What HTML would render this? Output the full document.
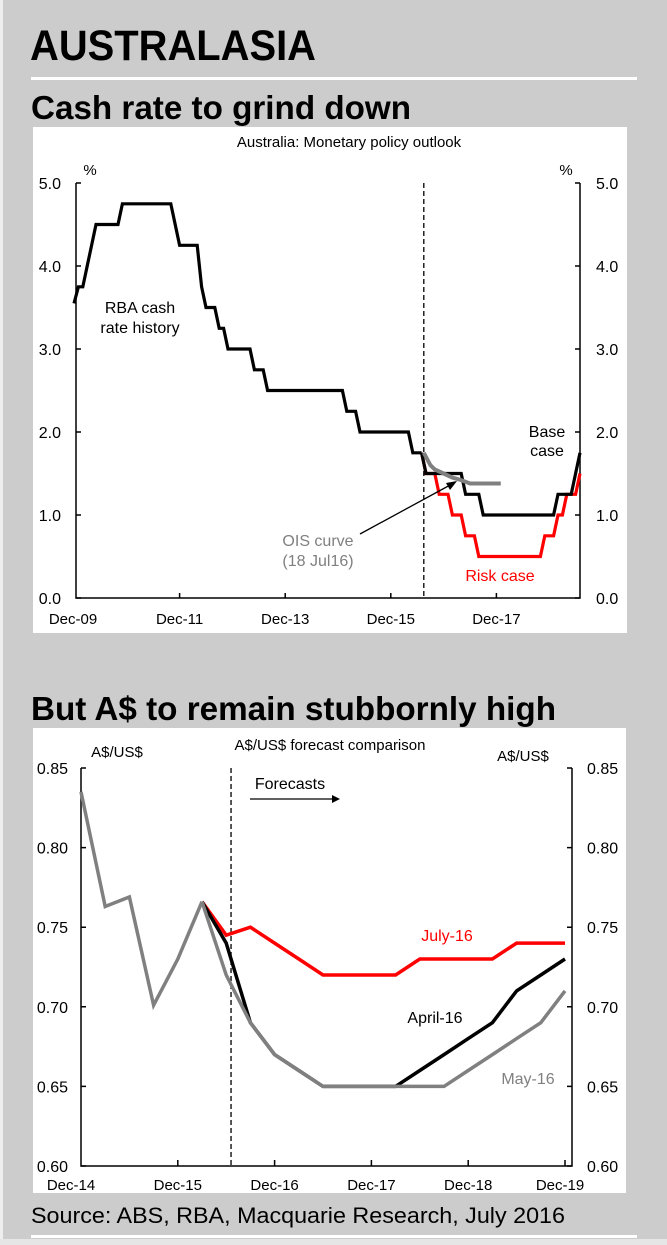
<!DOCTYPE html>
<html><head><meta charset="utf-8"><style>
html,body{margin:0;padding:0;background:#cccccc;}
svg{display:block;font-family:"Liberation Sans",Arial,sans-serif;}
</style></head><body>
<svg id="root" width="667" height="1245" viewBox="0 0 667 1245">
<rect x="0" y="0" width="667" height="1245" fill="#cccccc"/>
<rect x="0" y="0" width="3" height="1245" fill="#eeeeee"/>
<text x="30" y="60" font-size="43" font-weight="bold" textLength="286" lengthAdjust="spacingAndGlyphs">AUSTRALASIA</text>
<rect x="31" y="77" width="606" height="3" fill="#ffffff"/>
<text x="31" y="119" font-size="33" font-weight="bold" textLength="380" lengthAdjust="spacingAndGlyphs">Cash rate to grind down</text>
<rect x="33" y="127" width="594" height="506" fill="#ffffff"/>
<g id="c1"></g>
<text x="31" y="720" font-size="33" font-weight="bold" textLength="525" lengthAdjust="spacingAndGlyphs">But A$ to remain stubbornly high</text>
<rect x="33" y="728" width="593" height="465" fill="#ffffff"/>
<g id="c2"></g>
<text x="31" y="1223" font-size="22" textLength="534" lengthAdjust="spacingAndGlyphs">Source: ABS, RBA, Macquarie Research, July 2016</text>
<rect x="31" y="1235" width="606" height="3" fill="#ffffff"/>
<rect x="0" y="1239" width="667" height="6" fill="#e6e6e6"/>
</svg>
<script>
// ---------- Chart 1 data (months since Dec-09) ----------
const histMonths = [0,1,2,3,4,5,10,11,22,23,24,28,29,30,32,33,34,35,40,41,43,44,61,62,64,65,76,77,79];
const histRates  = [3.55,3.75,3.75,4.0,4.25,4.5,4.5,4.75,4.75,4.5,4.25,4.25,3.75,3.5,3.5,3.25,3.25,3.0,3.0,2.75,2.75,2.5,2.5,2.25,2.25,2.0,2.0,1.75,1.75];
const baseMonths = [79,80,88,89,92,93,109,110,113,114,115];
const baseRates  = [1.75,1.5,1.5,1.25,1.25,1.0,1.0,1.25,1.25,1.5,1.75];
const riskMonths = [79,80,82,83,85,86,88,89,91,92,106,107,109,110,111,112,114,115];
const riskRates  = [1.75,1.5,1.5,1.25,1.25,1.0,1.0,0.75,0.75,0.5,0.5,0.75,0.75,1.0,1.0,1.25,1.25,1.5];
const oisMonths  = [79.5,81,82,84,86,88,90,92,97];
const oisRates   = [1.75,1.6,1.55,1.5,1.45,1.42,1.38,1.38,1.38];
const c1YTicks = [0,1,2,3,4,5];
const c1XTickMonths = [0,24,48,72,96];
const c1XLabels = ["Dec-09","Dec-11","Dec-13","Dec-15","Dec-17"];
const c1Divider = 79.5;

// ---------- Chart 2 data (quarters since Dec-14) ----------
const fxHistQ = [0,1,2,3,4,5];
const fxHist  = [0.835,0.763,0.769,0.701,0.730,0.766];
const fcQ     = [5,6,7,8,9,10,11,12,13,14,15,16,17,18,19,20];
const julyFc  = [0.766,0.745,0.750,0.740,0.730,0.720,0.720,0.720,0.720,0.730,0.730,0.730,0.730,0.740,0.740,0.740];
const aprilFc = [0.766,0.740,0.690,0.670,0.660,0.650,0.650,0.650,0.650,0.660,0.670,0.680,0.690,0.710,0.720,0.730];
const mayFc   = [0.766,0.720,0.690,0.670,0.660,0.650,0.650,0.650,0.650,0.650,0.650,0.660,0.670,0.680,0.690,0.710];
const c2YTicks = [0.60,0.65,0.70,0.75,0.80,0.85];
const c2XTickQ = [0,4,8,12,16,20];
const c2XLabels = ["Dec-14","Dec-15","Dec-16","Dec-17","Dec-18","Dec-19"];
const c2Divider = 6.2;

const NS="http://www.w3.org/2000/svg";
function mk(parent,tag,attrs){const e=document.createElementNS(NS,tag);for(const k in attrs)e.setAttribute(k,attrs[k]);parent.appendChild(e);return e;}
function txt(parent,x,y,s,size,anchor,fill){const t=mk(parent,"text",{x:x,y:y,"font-size":size,"text-anchor":anchor||"start",fill:fill||"#000"});t.textContent=s;return t;}
function pts(xs,ys,fx,fy){return xs.map((v,i)=>fx(v).toFixed(1)+","+fy(ys[i]).toFixed(1)).join(" ");}

// ---------- Chart 1 ----------
(function(){
const g=document.getElementById("c1");
const L=76,R=580,T=183,B=598;
const x=m=>74+m*4.4;
const y=v=>B-(v/5)*(B-T);
let t=txt(g,349,147,"Australia: Monetary policy  outlook",15,"middle");


t=txt(g,90,175,"%",15,"middle");


t=txt(g,566,175,"%",15,"middle");


let ax=mk(g,"path",{d:`M${L},${T}V${B}H${R}V${T}`,fill:"none",stroke:"#000","stroke-width":1.5});


c1YTicks.forEach(v=>{
  const yy=y(v);
  let tk=mk(g,"path",{d:`M${L},${yy}h5M${R},${yy}h-5`,stroke:"#000","stroke-width":1.5});
  
  
  let a=txt(g,61,yy+6,v.toFixed(1),16,"end");
  
  
  let b=txt(g,596,yy+6,v.toFixed(1),16,"start");
  
  
});
c1XTickMonths.forEach((m,i)=>{
  const xx=x(m);
  if(i>0){let tk=mk(g,"path",{d:`M${xx},${B}v-5`,stroke:"#000","stroke-width":1.5});
  
  }
  let l=txt(g,i===0?73:xx,624,c1XLabels[i],15,"middle");
  
  
});
let dv=mk(g,"line",{x1:x(c1Divider),x2:x(c1Divider),y1:183,y2:B,stroke:"#000","stroke-width":1.3,"stroke-dasharray":"5,3"});


let s=mk(g,"polyline",{points:pts(riskMonths,riskRates,x,y),fill:"none",stroke:"#ff0000","stroke-width":3.2});


s=mk(g,"polyline",{points:pts(baseMonths,baseRates,x,y),fill:"none",stroke:"#000","stroke-width":3.2});


s=mk(g,"polyline",{points:pts(histMonths,histRates,x,y),fill:"none",stroke:"#000","stroke-width":3.2});


s=mk(g,"polyline",{points:pts(oisMonths,oisRates,x,y),fill:"none",stroke:"#808080","stroke-width":4});


let ar=mk(g,"path",{d:"M360,534L452,484",stroke:"#000","stroke-width":1.3});


let ah=mk(g,"path",{d:"M457,481L446,483L450,490Z",fill:"#000"});


t=txt(g,140,313,"RBA cash",16,"middle");
t=txt(g,140,333,"rate history",16,"middle");
t=txt(g,547,437,"Base",16,"middle");
t=txt(g,547,456,"case",16,"middle");
t=txt(g,500,581,"Risk case",16,"middle","#ff0000");
t=txt(g,318,546,"OIS curve",16,"middle","#808080");
t=txt(g,318,566,"(18 Jul16)",16,"middle","#808080");
})();

// ---------- Chart 2 ----------
(function(){
const g=document.getElementById("c2");
const L=81,R=572,T=768,B=1166;
const x=q=>81+q*24.2;
const y=v=>B-(v-0.60)/0.25*(B-T);
let t=txt(g,330,750,"A$/US$ forecast comparison",15,"middle");

t=txt(g,117,757,"A$/US$",15,"middle");
t=txt(g,523,761,"A$/US$",15,"middle");
let ax=mk(g,"path",{d:`M${L},${T}V${B}H${R}V${T}`,fill:"none",stroke:"#000","stroke-width":1.5});

c2YTicks.forEach(v=>{
  const yy=y(v);
  let tk=mk(g,"path",{d:`M${L},${yy}h5M${R},${yy}h-5`,stroke:"#000","stroke-width":1.5});
  
  let a=txt(g,68,yy+6,v.toFixed(2),16,"end");
  
  let b=txt(g,587,yy+6,v.toFixed(2),16,"start");
  
});
c2XTickQ.forEach((q,i)=>{
  const xx=x(q);
  if(i>0){let tk=mk(g,"path",{d:`M${xx},${B}v-6`,stroke:"#000","stroke-width":1.5});
  }
  let l=txt(g,i===0?71:(i===5?560:xx),1190,c2XLabels[i],15,"middle");
  
});
let dv=mk(g,"line",{x1:x(c2Divider),x2:x(c2Divider),y1:768,y2:B,stroke:"#000","stroke-width":1.3,"stroke-dasharray":"5,3"});

t=txt(g,290,789,"Forecasts",16,"middle");
let ar=mk(g,"path",{d:"M250,799H334",stroke:"#000","stroke-width":1.2});

let ah=mk(g,"path",{d:"M340,799L332,795L332,803Z",fill:"#000"});

let s=mk(g,"polyline",{points:pts(fcQ,julyFc,x,y),fill:"none",stroke:"#ff0000","stroke-width":3.5});

s=mk(g,"polyline",{points:pts(fcQ,aprilFc,x,y),fill:"none",stroke:"#000","stroke-width":3.5});

s=mk(g,"polyline",{points:pts(fcQ,mayFc,x,y),fill:"none",stroke:"#808080","stroke-width":3.5});

s=mk(g,"polyline",{points:pts(fxHistQ,fxHist,x,y),fill:"none",stroke:"#808080","stroke-width":3.5});

t=txt(g,447,941,"July-16",16,"middle","#ff0000");
t=txt(g,435,1023,"April-16",16,"middle");
t=txt(g,528,1084,"May-16",16,"middle","#808080");
})();
</script>
</body></html>
